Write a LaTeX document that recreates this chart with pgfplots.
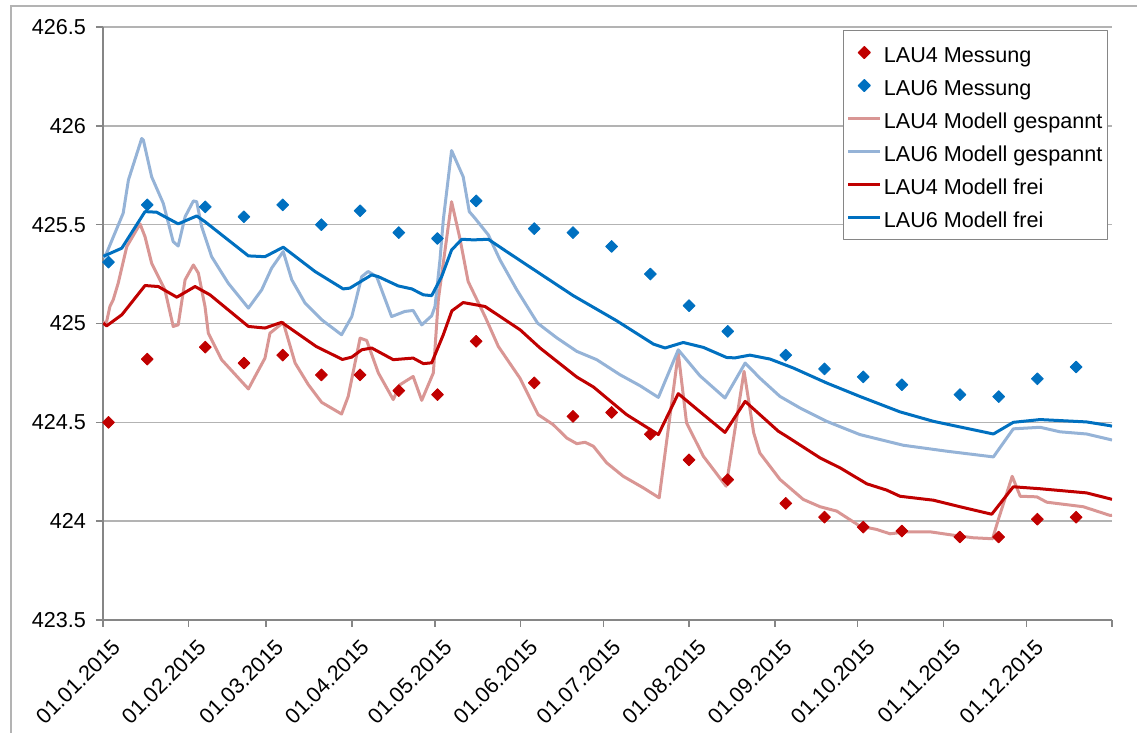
\documentclass[border=0pt]{standalone}
\usepackage{pgfplots}
\pgfplotsset{compat=1.18}
\usepackage{fontspec}
\setmainfont{Liberation Sans}
\definecolor{r4}{HTML}{C00000}
\definecolor{b6}{HTML}{0070C0}
\definecolor{r4l}{HTML}{D99694}
\definecolor{b6l}{HTML}{95B3D7}
\definecolor{axg}{HTML}{868686}
\definecolor{grd}{HTML}{B3B3B3}
\begin{document}
\begin{tikzpicture}
\begin{axis}[
  scale only axis, width=504.5pt, height=296.5pt,
  xmin=0, xmax=365, ymin=423.5, ymax=426.5,
  axis x line*=bottom, axis y line*=left,
  axis line style={-, axg, line width=0.9pt},
  xtick={0,31,59,90,120,151,181,212,243,273,304,334,365},
  xticklabels={01.01.2015,01.02.2015,01.03.2015,01.04.2015,01.05.2015,01.06.2015,01.07.2015,01.08.2015,01.09.2015,01.10.2015,01.11.2015,01.12.2015,},
  ytick={423.5,424,424.5,425,425.5,426,426.5},
  tick align=outside, major tick length=3.5pt,
  tick style={axg, line width=0.8pt},
  ymajorgrids, grid style={grd, line width=0.8pt},
  font=\fontsize{10.8}{13}\selectfont,
  /pgf/number format/assume math mode=true,
  yticklabel style={xshift=-1.5pt},
  xticklabel style={rotate=45, anchor=east, inner sep=1pt, xshift=0pt, yshift=-10.5pt},
  legend style={at={(1,1)}, anchor=north east, xshift=-2pt, yshift=-1.5pt,
    draw=axg, line width=0.6pt, inner xsep=1.5pt, inner ysep=2.75pt, row sep=0pt,
    nodes={inner sep=1pt, text height=12.3pt, text depth=2.2pt},
    font=\fontsize{10.8}{13}\selectfont},
  legend cell align=left,
  legend image code/.code={\draw[mark repeat=2,mark phase=2,#1] plot coordinates {(0pt,0pt) (8pt,0pt) (16pt,0pt)};},
  line join=round,
]
\addplot[only marks, mark=square*, mark size=2.1pt, mark options={rotate=45, r4, fill=r4}] coordinates {
(2,424.50) (16,424.82) (37,424.88) (51,424.80) (65,424.84) (79,424.74) (93,424.74) (107,424.66)
(121,424.64) (135,424.91) (156,424.70) (170,424.53) (184,424.55) (198,424.44) (212,424.31) (226,424.21)
(247,424.09) (261,424.02) (275,423.97) (289,423.95) (310,423.92) (324,423.92) (338,424.01) (352,424.02)};
\addlegendentry{LAU4 Messung}
\addplot[only marks, mark=square*, mark size=2.1pt, mark options={rotate=45, b6, fill=b6}] coordinates {
(2,425.31) (16,425.60) (37,425.59) (51,425.54) (65,425.60) (79,425.50) (93,425.57) (107,425.46)
(121,425.43) (135,425.62) (156,425.48) (170,425.46) (184,425.39) (198,425.25) (212,425.09) (226,424.96)
(247,424.84) (261,424.77) (275,424.73) (289,424.69) (310,424.64) (324,424.63) (338,424.72) (352,424.78)};
\addlegendentry{LAU6 Messung}
\addplot[r4l, line width=1.5pt, no marks] coordinates {
(0.1,425.004) (1.3,425.009) (2.5,425.086) (3.7,425.120) (5.5,425.204) (8.6,425.389) (13.4,425.504)
(15.2,425.439) (17.6,425.305) (22.4,425.170) (25.4,424.985) (27.2,424.993) (29.7,425.221) (32.7,425.296)
(34.5,425.255) (36.9,425.086) (38.1,424.951) (42.9,424.817) (52.6,424.669) (55.0,424.732) (58.6,424.825)
(60.4,424.951) (65.2,425.005) (69.5,424.800) (74.3,424.690) (79.1,424.601) (86.3,424.542) (88.7,424.631)
(93.0,424.926) (95.4,424.914) (99.6,424.750) (105.0,424.615) (107.4,424.690) (112.2,424.732) (115.3,424.611)
(119.5,424.750) (121.3,425.120) (126.1,425.616) (129.1,425.431) (132.1,425.212) (138.2,425.035) (143.0,424.884)
(150.8,424.724) (157.4,424.539) (162.9,424.488) (167.7,424.421) (171.4,424.392) (174.4,424.399) (177.4,424.379)
(182.2,424.295) (188.2,424.227) (195.4,424.169) (201.2,424.118) (208.1,424.850) (211.1,424.497) (217.2,424.328)
(225.4,424.177) (231.9,424.758) (235.4,424.446) (237.6,424.345) (244.9,424.211) (253.3,424.110) (259.4,424.073)
(265.4,424.051) (273.8,423.975) (279.9,423.958) (284.7,423.936) (290.7,423.946) (299.2,423.946) (307.6,423.929)
(314.8,423.916) (321.8,423.911) (323.9,424.009) (328.9,424.227) (331.8,424.126) (337.8,424.123) (341.4,424.096)
(354.6,424.073) (364.3,424.029) (365,424.03)};
\addlegendentry{LAU4 Modell gespannt}
\addplot[b6l, line width=1.5pt, no marks] coordinates {
(0.2,425.332) (1.3,425.356) (4.3,425.457) (7.3,425.558) (9.2,425.726) (14.0,425.936) (14.6,425.928)
(17.6,425.742) (21.8,425.608) (25.4,425.414) (27.2,425.392) (29.7,425.540) (32.7,425.620) (33.9,425.616)
(35.7,425.490) (39.3,425.338) (45.3,425.204) (52.6,425.078) (57.4,425.170) (61.0,425.280) (65.2,425.364)
(68.3,425.221) (73.1,425.103) (79.1,425.019) (86.3,424.943) (90.0,425.035) (93.6,425.237) (95.9,425.263)
(99.0,425.237) (104.4,425.035) (109.2,425.061) (112.2,425.066) (115.3,424.993) (118.9,425.039) (120.1,425.086)
(121.9,425.322) (123.1,425.524) (126.1,425.875) (130.3,425.742) (132.5,425.566) (134.6,425.532) (139.4,425.448)
(143.6,425.322) (149.7,425.170) (157.2,425.002) (164.1,424.928) (171.4,424.859) (178.6,424.817) (187.0,424.741)
(194.3,424.685) (200.9,424.626) (208.1,424.867) (215.9,424.736) (225.0,424.623) (232.3,424.800) (237.6,424.724)
(244.9,424.631) (252.1,424.573) (261.8,424.505) (273.8,424.438) (289.5,424.384) (305.2,424.354) (322.1,424.325)
(329.3,424.467) (339.0,424.475) (346.2,424.452) (355.8,424.441) (364.3,424.413) (365,424.41)};
\addlegendentry{LAU6 Modell gespannt}
\addplot[r4, line width=1.5pt, no marks] coordinates {
(0.1,425.002) (1.3,424.988) (6.8,425.044) (9.2,425.086) (15.2,425.192) (20.0,425.187) (26.7,425.133)
(33.3,425.187) (38.7,425.145) (52.6,424.985) (58.6,424.977) (64.6,425.006) (77.1,424.884) (86.6,424.818)
(90.0,424.830) (93.6,424.867) (97.2,424.876) (105.0,424.817) (112.2,424.825) (115.9,424.797) (118.9,424.801)
(123.1,424.943) (126.2,425.064) (130.3,425.106) (138.2,425.086) (150.9,424.968) (158.1,424.876) (171.4,424.729)
(177.4,424.679) (189.4,424.539) (200.9,424.438) (208.1,424.645) (217.2,424.539) (225.0,424.449) (232.3,424.606)
(244.3,424.455) (247.3,424.429) (259.4,424.320) (266.6,424.270) (276.3,424.189) (283.5,424.157) (288.3,424.126)
(300.4,424.106) (310.0,424.073) (321.5,424.035) (329.3,424.174) (339.0,424.164) (355.8,424.143) (364.3,424.113) (365,424.11)};
\addlegendentry{LAU4 Modell frei}
\addplot[b6, line width=1.5pt, no marks] coordinates {
(0.1,425.34) (1.3,425.347) (6.8,425.381) (15.2,425.566) (19.4,425.563) (22.4,425.540) (27.2,425.504) (33.9,425.544)
(36.9,425.515) (52.6,425.342) (58.6,425.338) (65.2,425.386) (76.7,425.263) (86.9,425.175) (89.3,425.179)
(97.2,425.246) (99.6,425.237) (106.8,425.190) (111.7,425.175) (115.9,425.145) (118.9,425.141) (122.5,425.237)
(126.1,425.372) (129.8,425.426) (134.0,425.423) (139.4,425.426) (146.0,425.364) (156.9,425.263) (170.1,425.141)
(185.8,425.014) (199.1,424.896) (203.3,424.876) (209.9,424.904) (217.2,424.879) (225.6,424.828) (228.6,424.826)
(234.0,424.840) (241.3,424.820) (249.7,424.775) (261.8,424.699) (273.8,424.631) (288.3,424.553) (300.4,424.505)
(322.1,424.441) (329.3,424.500) (339.0,424.514) (355.8,424.502) (364.3,424.483) (365,424.48)};
\addlegendentry{LAU6 Modell frei}
\end{axis}
\draw[grd, line width=0.8pt] (-46pt,-56.5pt) -- (-46pt,307pt) -- (517pt,307pt);
\pgfresetboundingbox
\path[use as bounding box] (-51.5pt,-56.5pt) rectangle (517pt,310pt);
\end{tikzpicture}
\end{document}
